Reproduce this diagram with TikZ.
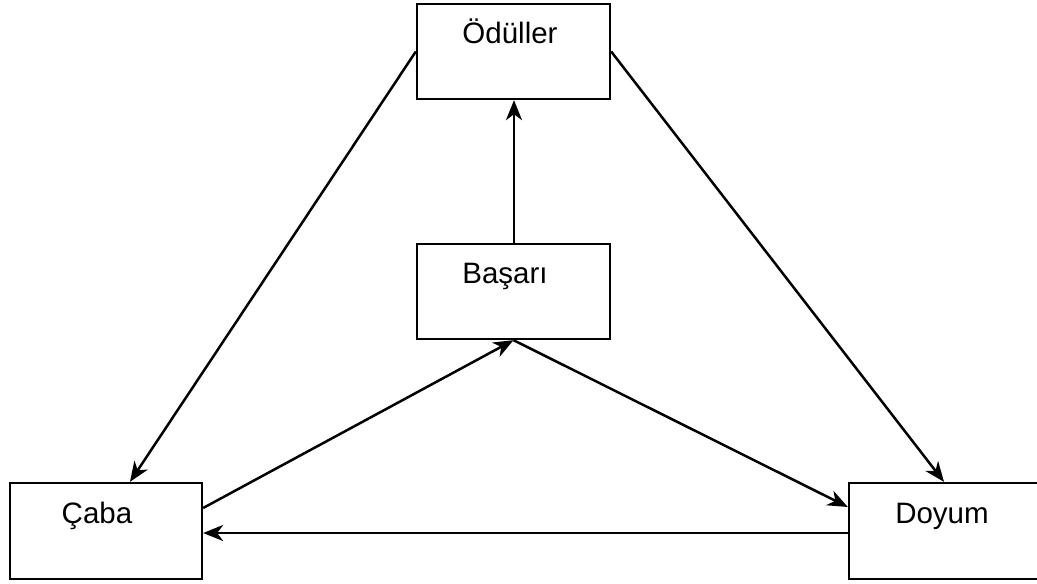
\documentclass[tikz,border=0pt]{standalone}
\usepackage{fontspec}
\setmainfont{Liberation Sans}
\usetikzlibrary{arrows.meta}
\begin{document}
\begin{tikzpicture}[x=1pt,y=-1pt,
  box/.style={draw,line width=2.3pt,minimum width=193pt,minimum height=95pt,inner sep=0pt},
  txt/.style={anchor=base,inner sep=0pt,font=\fontsize{29.5}{33}\selectfont},
  link/.style={line width=2.5pt,-{Stealth[length=20pt,width=16pt,inset=6pt]}}]
  \useasboundingbox (0,0) rectangle (1037,584);
  \clip (0,0) rectangle (1037,584);
  % the four boxes
  \node[box] (od) at (513.5,51.5) {};
  \node[box] (ba) at (513.5,291.5) {};
  \node[box,minimum width=192pt,minimum height=96pt] (ca) at (106,531) {};
  \node[box,minimum width=190pt,minimum height=96pt] (do) at (944,531) {};
  % their labels, set in the upper part of each box
  \node[txt] (odt) at (510,43) {Ödüller};
  \node[txt] (bat) at (505,283) {Başarı};
  \node[txt] (cat) at (97,523) {Çaba};
  \node[txt] (dot) at (942,523) {Doyum};
  % connectors
  \draw[link] (od.west) -- ([xshift=24pt]ca.north);
  \draw[link] (od.east) -- (do.north);
  \draw[link] ([xshift=0.5pt]ba.north) -- ([xshift=0.5pt]od.south);
  \draw[link] ([yshift=23pt]ca.east) -- (ba.south);
  \draw[link] (ba.south) -- ([yshift=24pt]do.west);
  \draw[link] ([yshift=-2pt]do.west) -- ([yshift=-2pt]ca.east);
\end{tikzpicture}
\end{document}
